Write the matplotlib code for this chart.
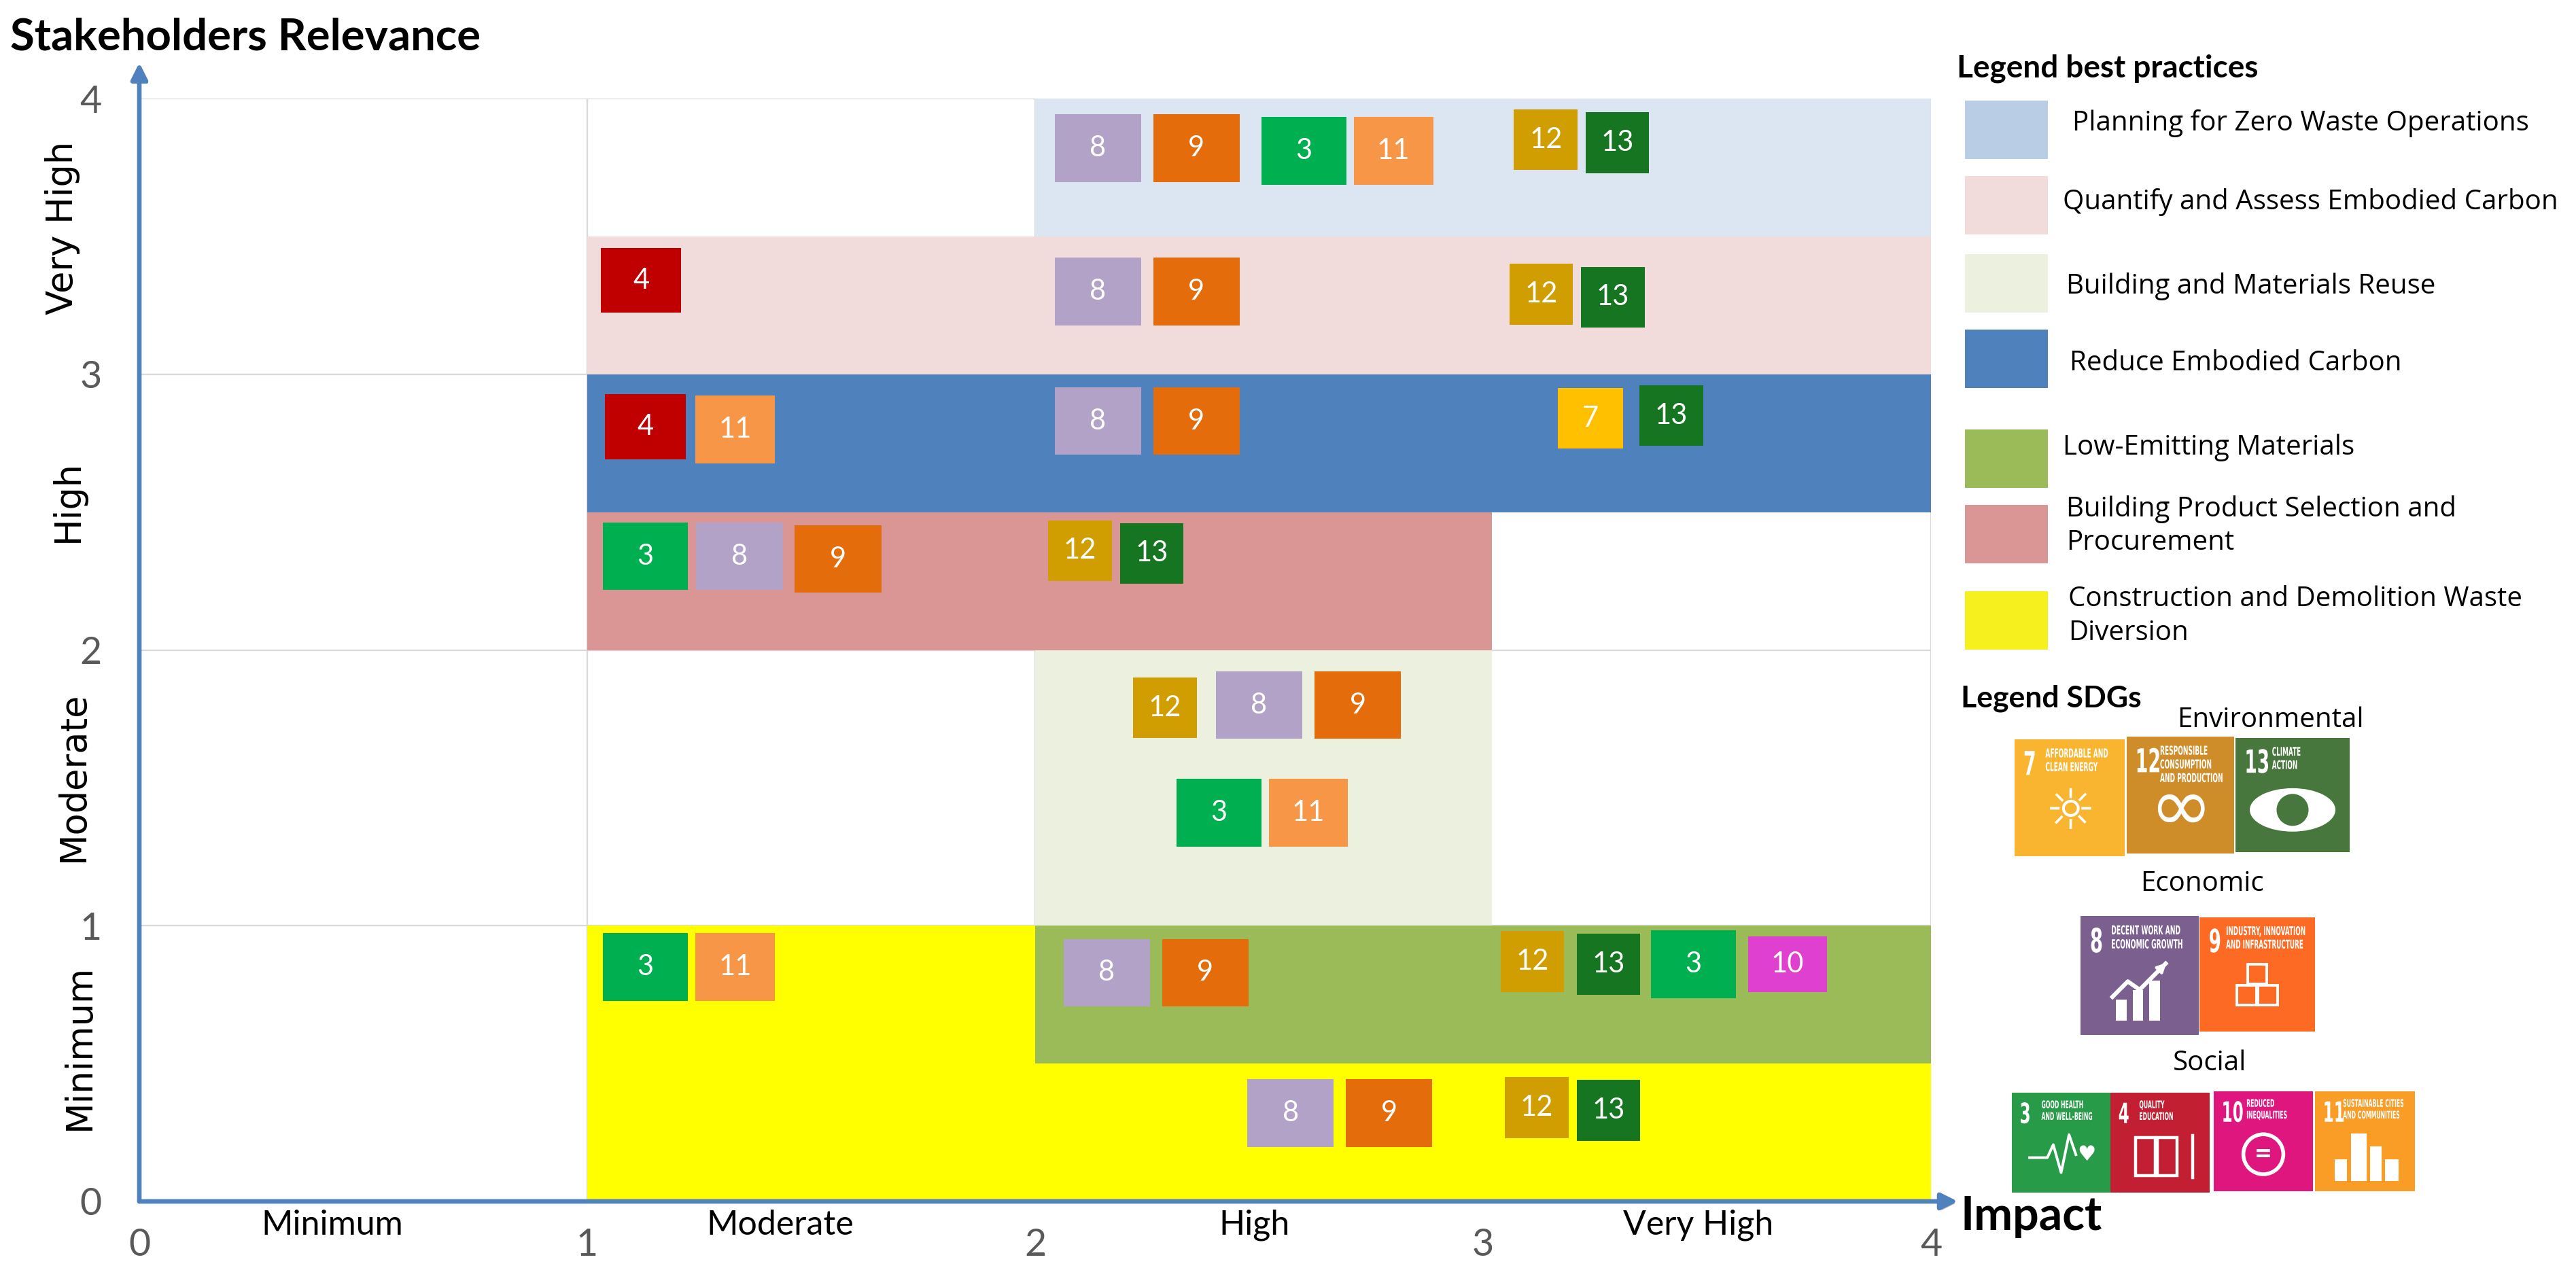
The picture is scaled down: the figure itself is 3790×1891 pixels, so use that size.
import numpy as np
import matplotlib.pyplot as plt
import matplotlib.patheffects as pe
import matplotlib.transforms as mtransforms
from matplotlib.font_manager import FontProperties
from matplotlib.textpath import TextPath
from matplotlib.patches import Rectangle, Ellipse, Circle, PathPatch


# Best practices and the zone each one covers (x = impact, y = stakeholders relevance)
practices = ["Planning for Zero Waste Operations", "Quantify and Assess Embodied Carbon",
             "Building and Materials Reuse", "Reduce Embodied Carbon", "Low-Emitting Materials",
             "Building Product Selection and\nProcurement",
             "Construction and Demolition Waste\nDiversion"]
band_x0 = [2.0, 1.0, 2.0, 1.0, 2.0, 1.0, 1.0]
band_x1 = [4.0, 4.0, 3.02, 4.0, 4.0, 3.02, 4.0]
band_y0 = [3.5, 3.0, 1.0, 2.5, 0.5, 2.0, 0.0]
band_y1 = [4.0, 3.5, 2.0, 3.0, 1.0, 2.5, 1.0]

# SDG tags placed on the matrix
box_sdg = [8, 9, 3, 11, 12, 13,
           4, 8, 9, 12, 13,
           4, 11, 8, 9, 7, 13,
           3, 8, 9, 12, 13,
           12, 8, 9, 3, 11,
           3, 11,
           8, 9, 12, 13, 3, 10,
           8, 9, 12, 13]
box_x = [2.14, 2.36, 2.60, 2.80, 3.14, 3.30,
         1.12, 2.14, 2.36, 3.13, 3.29,
         1.13, 1.33, 2.14, 2.36, 3.24, 3.42,
         1.13, 1.34, 1.56, 2.10, 2.26,
         2.29, 2.50, 2.72, 2.41, 2.61,
         1.13, 1.33,
         2.16, 2.38, 3.11, 3.28, 3.47, 3.68,
         2.57, 2.79, 3.12, 3.28]
box_y = [3.82, 3.82, 3.81, 3.81, 3.85, 3.84,
         3.34, 3.30, 3.30, 3.29, 3.28,
         2.81, 2.80, 2.83, 2.83, 2.84, 2.85,
         2.34, 2.34, 2.33, 2.36, 2.35,
         1.79, 1.80, 1.80, 1.41, 1.41,
         0.85, 0.85,
         0.83, 0.83, 0.87, 0.86, 0.86, 0.86,
         0.32, 0.32, 0.34, 0.33]

ticks = [0, 1, 2, 3, 4]
levels = ["Minimum", "Moderate", "High", "Very High"]

# SDG legend groups
sdg_groups = ["Environmental", "Economic", "Social"]
sdg_env = [7, 12, 13]
sdg_eco = [8, 9]
sdg_soc = [3, 4, 10, 11]
sdg_caption = {7: ["AFFORDABLE AND", "CLEAN ENERGY"],
               12: ["RESPONSIBLE", "CONSUMPTION", "AND PRODUCTION"],
               13: ["CLIMATE", "ACTION"], 8: ["DECENT WORK AND", "ECONOMIC GROWTH"],
               9: ["INDUSTRY, INNOVATION", "AND INFRASTRUCTURE"], 3: ["GOOD HEALTH", "AND WELL-BEING"],
               4: ["QUALITY", "EDUCATION"], 10: ["REDUCED", "INEQUALITIES"],
               11: ["SUSTAINABLE CITIES", "AND COMMUNITIES"]}

# ---- styles
band_col = ['#dce6f2', '#f2dcdb', '#ebf1de', '#4f81bd', '#9bbb59', '#d99694', '#ffff00']
patch_col = ['#b9cde5', '#f2dcdb', '#ebf1de', '#4f81bd', '#9bbb59', '#d99694', '#f5f01e']
tag_col = {3: '#00b050', 4: '#c00000', 7: '#ffc000', 8: '#b3a2c7', 9: '#e46c0a',
           10: '#df40cf', 11: '#f79646', 12: '#d09e00', 13: '#157521'}
tag_w = {3: 0.19, 4: 0.18, 7: 0.145, 8: 0.193, 9: 0.193, 10: 0.175, 11: 0.177, 12: 0.142, 13: 0.142}
tag_h = {3: 0.245, 4: 0.235, 7: 0.22, 8: 0.245, 9: 0.245, 10: 0.2, 11: 0.245, 12: 0.22, 13: 0.22}
icon_col = {7: '#f9b530', 12: '#cf8d2a', 13: '#48773e', 8: '#7a5f8f', 9: '#fd6a24',
            3: '#279b48', 4: '#c31f33', 10: '#e0167f', 11: '#f99d26'}
axis_blue = '#4f81bd'

plt.rcParams['font.family'] = ['Lato', 'DejaVu Sans']

W, H = 3790, 1891
fig = plt.figure(figsize=(W / 200, H / 200), dpi=200)
ax = fig.add_axes([205 / W, 1 - 1768 / H, (2841 - 205) / W, (1768 - 145) / H])
ax.set_xlim(0, 4)
ax.set_ylim(0, 4)
for s in ax.spines.values():
    s.set_visible(False)

ax.hlines(ticks[1:], 0, 4, color='#d9d9d9', lw=0.8, zorder=0.5)
ax.vlines(ticks[1:], 0, 4, color='#d9d9d9', lw=0.8, zorder=0.5)

for i in range(len(practices)):
    z = 1 if i == len(practices) - 1 else 2
    ax.add_patch(Rectangle((band_x0[i], band_y0[i]), band_x1[i] - band_x0[i],
                           band_y1[i] - band_y0[i], facecolor=band_col[i], edgecolor='none', zorder=z))

for n, x, y in zip(box_sdg, box_x, box_y):
    w, h = tag_w[n], tag_h[n]
    ax.add_patch(Rectangle((x - w / 2, y - h / 2), w, h, facecolor=tag_col[n], edgecolor='none', zorder=3))
    ax.text(x, y, str(n), color='white', fontsize=15, ha='center', va='center', zorder=4)

# axes with arrows
for tip in [(4.06, 0), (0, 4.13)]:
    a = ax.annotate('', xy=tip, xytext=(0, 0), annotation_clip=False, zorder=6,
                    arrowprops=dict(arrowstyle='-|>', color=axis_blue, lw=2.4, mutation_scale=18,
                                    shrinkA=0, shrinkB=0))
    a.arrow_patch.set_path_effects([pe.SimplePatchShadow(offset=(1.2, -1.2), shadow_rgbFace='#808080',
                                                         alpha=0.45), pe.Normal()])

ax.set_xticks(ticks)
ax.set_yticks(ticks)
ax.tick_params(length=0, labelsize=20, labelcolor='#595959')
ax.tick_params(axis='x', pad=14)
ax.tick_params(axis='y', pad=20)

for lab, xc in zip(levels, [0.43, 1.43, 2.49, 3.48]):
    ax.text(xc, -0.086, lab, fontsize=18, ha='center', va='center', clip_on=False)
for lab, yc, xb in zip(levels, [0.56, 1.54, 2.54, 3.53], [-0.111, -0.125, -0.137, -0.149]):
    ax.text(xb, yc, lab, fontsize=19, family='DejaVu Sans', rotation=90, rotation_mode='anchor',
            ha='center', va='baseline', clip_on=False)

# ---- overlay in pixel units for titles and legends
lg = fig.add_axes([0, 0, 1, 1])
lg.set_xlim(0, W)
lg.set_ylim(H, 0)
lg.axis('off')

lg.text(15, 55, "Stakeholders Relevance", fontsize=23.5, fontweight='bold', ha='left', va='center')
lg.text(2885, 1790, "Impact", fontsize=24.5, fontweight='bold', ha='left', va='center')

lg.text(2879, 101, "Legend best practices", fontsize=16.5, fontweight='bold', ha='left', va='center')
patch_top = [148, 259, 374, 485, 632, 743, 870]
text_x = [3049, 3035, 3040, 3045, 3035, 3040, 3043]
text_y = [182, 298, 421, 535, 659, 774, 907]
for i, name in enumerate(practices):
    lg.add_patch(Rectangle((2891, patch_top[i]), 122, 86, facecolor=patch_col[i], edgecolor='none'))
    lg.text(text_x[i], text_y[i], name, fontsize=14.5, family=['Open Sans', 'DejaVu Sans'],
            ha='left', va='center', linespacing=1.3)

lg.text(2885, 1028, "Legend SDGs", fontsize=16, fontweight='bold', ha='left', va='center')
for g, (gx, gy) in zip(sdg_groups, [(3340, 1060), (3240, 1301), (3251, 1565)]):
    lg.text(gx, gy, g, fontsize=14.5, family=['Open Sans', 'DejaVu Sans'], ha='center', va='center')

bold_fp = FontProperties(family='DejaVu Sans', weight='bold')


def squeezed(txt, x, y, em, sx):
    # condensed white text drawn as a path, (x, y) is the baseline start in pixels
    tp = TextPath((0, 0), txt, size=1, prop=bold_fp)
    tr = mtransforms.Affine2D().scale(em * sx, -em).translate(x, y) + lg.transData
    lg.add_patch(PathPatch(tp, transform=tr, facecolor='white', edgecolor='none', lw=0))


def sdg_icon(n, x, y, w, h, cap_dx):
    c = icon_col[n]
    lg.add_patch(Rectangle((x, y), w, h, facecolor=c, edgecolor='none'))
    num_em = 0.28 * h
    squeezed(str(n), x + 0.08 * w, y + 0.1 * h + 0.73 * num_em, num_em, 0.56)
    for k, line in enumerate(sdg_caption[n]):
        squeezed(line, x + cap_dx * w, y + 0.155 * h + k * 0.117 * h, 0.105 * h, 0.5)
    cx, cy = x + 0.5 * w, y + 0.63 * h
    if n == 7:
        lg.text(cx, cy, '\u263c', color='white', fontsize=30, family='DejaVu Sans', ha='center', va='center')
    elif n == 12:
        lg.text(cx, cy, '\u221e', color='white', fontsize=40, family='DejaVu Sans', ha='center', va='center')
    elif n == 13:
        lg.add_patch(Ellipse((cx, cy), 0.75 * w, 0.38 * h, facecolor='white', edgecolor='none'))
        lg.add_patch(Circle((cx, cy), 0.14 * h, facecolor=c, edgecolor='none'))
    elif n == 8:
        for k, bh in enumerate([0.18, 0.26, 0.34]):
            lg.add_patch(Rectangle((x + (0.3 + 0.14 * k) * w, y + (0.88 - bh) * h), 0.09 * w, bh * h,
                                   facecolor='white', edgecolor='none'))
        lg.plot([x + 0.27 * w, x + 0.4 * w, x + 0.5 * w, x + 0.72 * w],
                [y + 0.68 * h, y + 0.55 * h, y + 0.62 * h, y + 0.4 * h], color='white', lw=2.2)
        lg.annotate('', xy=(x + 0.75 * w, y + 0.37 * h), xytext=(x + 0.68 * w, y + 0.44 * h),
                    arrowprops=dict(arrowstyle='-|>', color='white', lw=1.5, mutation_scale=10))
    elif n == 9:
        s = 0.17 * w
        for ox, oy in [(0, -1.05), (-0.55, 0), (0.55, 0)]:
            lg.add_patch(Rectangle((cx + ox * s - s / 2, cy + 0.05 * h + oy * s - s / 2), s, s,
                                   facecolor='none', edgecolor='white', lw=1.4))
    elif n == 3:
        lg.plot([x + 0.18 * w, x + 0.36 * w, x + 0.42 * w, x + 0.5 * w, x + 0.58 * w, x + 0.65 * w],
                [y + 0.65 * h, y + 0.65 * h, y + 0.52 * h, y + 0.8 * h, y + 0.42 * h, y + 0.62 * h],
                color='white', lw=1.4)
        lg.text(x + 0.76 * w, y + 0.62 * h, '\u2665', color='white', fontsize=11, family='DejaVu Sans',
                ha='center', va='center')
    elif n == 4:
        for ox in [-0.2, 0.02]:
            lg.add_patch(Rectangle((cx + ox * w - 0.05 * w, y + 0.45 * h), 0.2 * w, 0.38 * h,
                                   facecolor='none', edgecolor='white', lw=1.6))
        lg.plot([x + 0.83 * w, x + 0.83 * w], [y + 0.43 * h, y + 0.85 * h], color='white', lw=1.6)
    elif n == 10:
        lg.add_patch(Circle((cx, cy), 0.2 * h, facecolor='none', edgecolor='white', lw=2))
        lg.text(cx, cy, '=', color='white', fontsize=16, fontweight='bold', ha='center', va='center')
    elif n == 11:
        for bx, bt, bw in [(0.2, 0.68, 0.12), (0.36, 0.42, 0.16), (0.55, 0.55, 0.12), (0.7, 0.68, 0.14)]:
            lg.add_patch(Rectangle((x + bx * w, y + bt * h), bw * w, (0.9 - bt) * h,
                                   facecolor='white', edgecolor='none'))


env_pos = [(2964, 1088, 162, 172, 0.28), (3129, 1084, 158, 172, 0.31), (3289, 1086, 168, 168, 0.32)]
eco_pos = [(3061, 1348, 174, 175, 0.26), (3236, 1350, 170, 168, 0.23)]
soc_pos = [(2960, 1608, 145, 147, 0.3), (3105, 1608, 146, 147, 0.29),
           (3257, 1606, 146, 147, 0.33), (3406, 1606, 147, 147, 0.28)]
for group, pos in [(sdg_env, env_pos), (sdg_eco, eco_pos), (sdg_soc, soc_pos)]:
    for n, p in zip(group, pos):
        sdg_icon(n, *p)

fig.savefig('out.png', dpi=200)
